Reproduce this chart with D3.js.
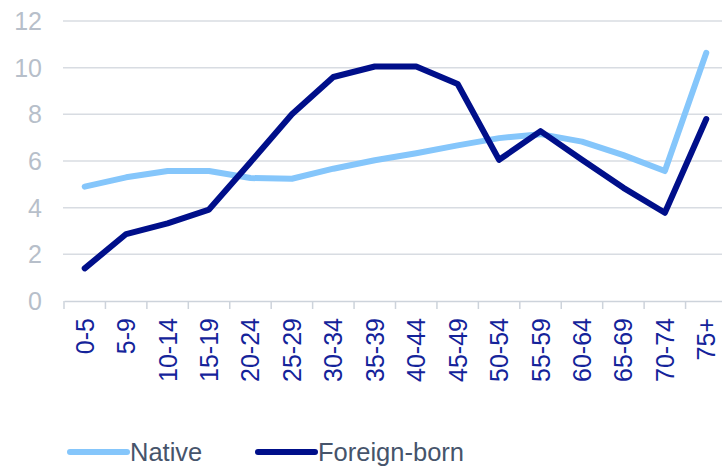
<!DOCTYPE html>
<html>
<head>
<meta charset="utf-8">
<script src="https://cdn.jsdelivr.net/npm/d3@7"></script>
<style>
  body { margin: 0; background: #fff; }
  svg { display: block; font-family: "Liberation Sans", Arial, sans-serif; }
</style>
</head>
<body>
<svg id="chart"></svg>
<script>
const ageGroups = ['0-5', '5-9', '10-14', '15-19', '20-24', '25-29', '30-34', '35-39',
  '40-44', '45-49', '50-54', '55-59', '60-64', '65-69', '70-74', '75+'];
const native = [4.9, 5.3, 5.57, 5.57, 5.27, 5.24, 5.67, 6.03, 6.33, 6.67, 6.98, 7.15, 6.83, 6.25, 5.57, 10.64];
const foreignBorn = [1.4, 2.87, 3.33, 3.92, 5.95, 8.0, 9.6, 10.05, 10.05, 9.3, 6.05, 7.28, 6.05, 4.85, 3.78, 7.8];
const yTicks = [0, 2, 4, 6, 8, 10, 12];
const seriesNames = ['Native', 'Foreign-born'];

const width = 722, height = 467;
const margin = { top: 21, left: 64, bottom: 166, right: -5 };

const svg = d3.select('#chart').attr('width', width).attr('height', height);

const x = d3.scaleBand()
  .domain(ageGroups)
  .range([margin.left, width - margin.right]);

const y = d3.scaleLinear()
  .domain([0, 12])
  .range([height - margin.bottom, margin.top]);

// grid
svg.append('g')
  .selectAll('line')
  .data(yTicks.filter(d => d > 0))
  .join('line')
  .attr('x1', margin.left - 1)
  .attr('x2', width)
  .attr('y1', d => y(d))
  .attr('y2', d => y(d))
  .attr('stroke', '#d8dce2')
  .attr('stroke-width', 1.5);

// y axis labels
svg.append('g')
  .selectAll('text')
  .data(yTicks)
  .join('text')
  .attr('x', 42)
  .attr('y', d => y(d))
  .attr('dy', '0.36em')
  .attr('text-anchor', 'end')
  .attr('font-size', 25)
  .attr('fill', '#b7bfca')
  .text(d => d);

// x axis
const xAxis = svg.append('g')
  .attr('transform', `translate(0,${y(0)})`)
  .call(d3.axisBottom(x).tickSize(0).tickFormat(''));
xAxis.select('.domain').attr('stroke', '#cdd3db').attr('stroke-width', 1.5);

svg.append('g')
  .selectAll('line')
  .data(ageGroups)
  .join('line')
  .attr('x1', d => x(d))
  .attr('x2', d => x(d))
  .attr('y1', y(0))
  .attr('y2', y(0) + 8)
  .attr('stroke', '#cdd3db')
  .attr('stroke-width', 1.5);

svg.append('g')
  .selectAll('text')
  .data(ageGroups)
  .join('text')
  .attr('transform', d => `translate(${x(d) + x.bandwidth() / 2},${y(0) + 17}) rotate(-90)`)
  .attr('dy', '0.36em')
  .attr('text-anchor', 'end')
  .attr('font-size', 25)
  .attr('fill', '#14239a')
  .text(d => d);

// lines
const line = d3.line()
  .x((d, i) => x(ageGroups[i]) + x.bandwidth() / 2)
  .y(d => y(d));

const colors = ['#85c6fb', '#000f8a'];

[native, foreignBorn].forEach((vals, k) => {
  svg.append('path')
    .datum(vals)
    .attr('d', line)
    .attr('fill', 'none')
    .attr('stroke', colors[k])
    .attr('stroke-width', 6)
    .attr('stroke-linejoin', 'round')
    .attr('stroke-linecap', 'round');
});

// legend
const legendX = [70, 258];
const legend = svg.append('g')
  .selectAll('g')
  .data(seriesNames)
  .join('g')
  .attr('transform', (d, i) => `translate(${legendX[i]},452)`);

legend.append('line')
  .attr('x1', 0).attr('x2', 57)
  .attr('stroke', (d, i) => colors[i])
  .attr('stroke-width', 6)
  .attr('stroke-linecap', 'round');

legend.append('text')
  .attr('x', 60)
  .attr('y', 9)
  .attr('font-size', 25.5)
  .attr('fill', '#46546b')
  .text(d => d);
</script>
</body>
</html>
